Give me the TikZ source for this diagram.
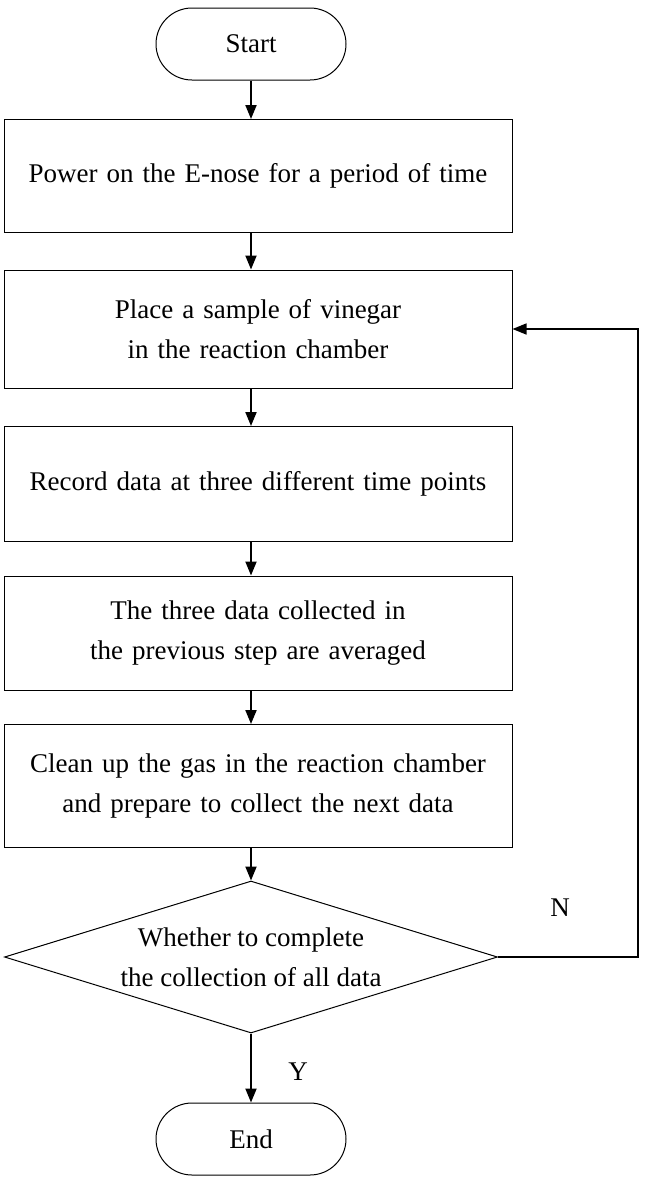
\documentclass[tikz,border=0pt]{standalone}
\usepackage{fontspec}
\setmainfont{Liberation Serif}
\usetikzlibrary{positioning,shapes.geometric,arrows.meta}
\begin{document}
\hyphenpenalty=10000
\exhyphenpenalty=10000
\begin{tikzpicture}[x=1pt,y=-1pt,
  every node/.style={font=\fontsize{27}{40}\selectfont},
  proc/.style={draw,line width=1pt,minimum width=508pt,text width=492pt,align=center,inner sep=0pt},
  term/.style={draw,line width=1pt,rounded corners=36pt,minimum width=190pt,minimum height=72pt},
  flow/.style={-{Triangle[length=14pt,width=11pt]},line width=2pt}]
\useasboundingbox (0,0) rectangle (646,1189);

% terminals and steps
\node[term] (start) at (251,44) {Start};
\node[proc,minimum height=113pt] (power) at (258,176) {Power on the E-nose for a period of time};
\node[proc,minimum height=118pt] (place) at (258,329) {Place a sample of vinegar in the reaction chamber};
\node[proc,minimum height=115pt] (record) at (258,484) {Record data at three different time points};
\node[proc,minimum height=114pt] (average) at (258,633) {The three data collected in the previous step are averaged};
\node[proc,minimum height=123pt] (clean) at (258,786) {Clean up the gas in the reaction chamber and prepare to collect the next data};
\node[draw,diamond,line width=1pt,minimum width=493pt,minimum height=152pt,aspect=3.2,inner sep=0pt,align=center] (check) at (251,957) {Whether to complete\\the collection of all data};
\node[term] (end) at (251,1139) {End};
\coordinate (turn) at (638,957);

% connectors
\draw[flow] (start) -- (start|-power.north);
\draw[flow] (power.south-|start) -- (start|-place.north);
\draw[flow] (place.south-|start) -- (start|-record.north);
\draw[flow] (record.south-|start) -- (start|-average.north);
\draw[flow] (average.south-|start) -- (start|-clean.north);
\draw[flow] (clean.south-|start) -- (check.north);
\draw[flow] (check.south) -- (end);
\draw[flow,line width=1.5pt] (check.east) -- (turn) |- (place.east);

% branch labels
\node (no) at (560,908) {N};
\node (yes) at (298,1072) {Y};
\end{tikzpicture}
\end{document}
